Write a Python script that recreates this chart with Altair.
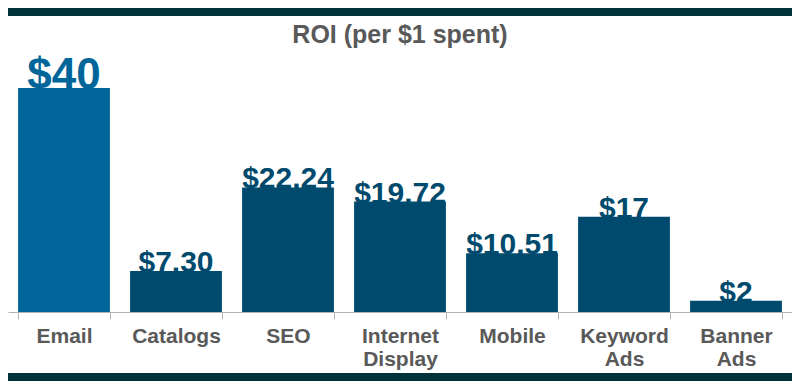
import altair as alt
import pandas as pd

title_text = "ROI (per $1 spent)"
categories = ["Email", "Catalogs", "SEO", "Internet Display", "Mobile", "Keyword Ads", "Banner Ads"]
roi = [40, 7.30, 22.24, 19.72, 10.51, 17, 2]
value_labels = ["$40", "$7.30", "$22.24", "$19.72", "$10.51", "$17", "$2"]

df = pd.DataFrame({"category": categories, "roi": roi, "label": value_labels})

FONT = "Liberation Sans"
LIGHT = "#00669a"
DARK = "#004a6e"
BAND = "#00333a"

is_email = alt.datum.category == "Email"

x = alt.X(
    "category:N",
    sort=categories,
    scale=alt.Scale(paddingInner=0.18, paddingOuter=0.09),
    axis=alt.Axis(
        title=None,
        labelExpr="split(datum.label, ' ')",
        tickBand="extent",
        labelAngle=0,
        labelFont=FONT,
        labelFontSize=21,
        labelFontWeight="bold",
        labelColor="#595959",
        labelPadding=6,
        labelLineHeight=23,
        labelBaseline="top",
        domainColor="#b3b3b3",
        tickColor="#b3b3b3",
        tickSize=7,
        grid=False,
    ),
)
y = alt.Y("roi:Q", scale=alt.Scale(domain=[0, 45]), axis=None)

base = alt.Chart(df)
bars = base.mark_bar().encode(
    x=x,
    y=y,
    color=alt.condition(is_email, alt.value(LIGHT), alt.value(DARK)),
)
texts = base.mark_text(baseline="alphabetic", dy=1, fontWeight="bold", font=FONT).encode(
    x=alt.X("category:N", sort=categories),
    y=y,
    text="label:N",
    size=alt.condition(is_email, alt.value(44), alt.value(30)),
    color=alt.condition(is_email, alt.value(LIGHT), alt.value(DARK)),
)

one = pd.DataFrame({"t": [title_text]})
title = alt.Chart(one).mark_text(
    font=FONT, fontSize=25, fontWeight="bold", color="#595959", baseline="alphabetic", align="center"
).encode(text="t:N", x=alt.value(392), y=alt.value(-17))

top_band = alt.Chart(one).mark_rect(color=BAND).encode(
    x=alt.value(0), x2=alt.value(784), y=alt.value(-52), y2=alt.value(-44)
)
bottom_band = alt.Chart(one).mark_rect(color=BAND).encode(
    x=alt.value(0), x2=alt.value(784), y=alt.value(313), y2=alt.value(321)
)

chart = alt.layer(top_band, bottom_band, bars, texts, title).properties(
    width=784,
    height=252,
    padding={"top": 52, "bottom": 69, "left": 0, "right": 0},
    autosize="none",
    background="white",
).configure_view(stroke=None)

chart.save("out.html", embed_options={"renderer": "svg", "actions": False})
